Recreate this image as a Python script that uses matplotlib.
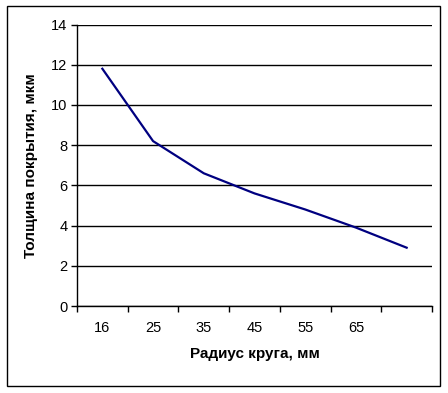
import matplotlib.pyplot as plt
from matplotlib.patches import Rectangle

plt.rcParams['font.family'] = ['Liberation Sans', 'DejaVu Sans']

# data
radius_labels = ['16', '25', '35', '45', '55', '65', '']
thickness = [11.8, 8.2, 6.6, 5.6, 4.8, 3.9, 2.9]

W, H = 448, 393
fig = plt.figure(figsize=(W / 100, H / 100), dpi=100)
ax = fig.add_axes([77 / W, 1 - 306 / H, (432 - 77) / W, (306 - 24.5) / H])

x = list(range(len(thickness)))
ax.plot(x, thickness, color='#000080', lw=1.6, solid_joinstyle='round', zorder=3)

# y axis
ax.set_ylim(0, 14)
ax.set_yticks(range(0, 15, 2))
ax.yaxis.grid(True, color='black', lw=1)
ax.tick_params(axis='y', direction='out', length=4, width=1, labelsize=10.5, pad=3)

# category x axis: ticks on boundaries, labels in the middle
ax.set_xlim(-0.5, len(x) - 0.5)
ax.set_xticks([i - 0.5 for i in range(len(x) + 1)])
ax.set_xticklabels([])
ax.set_xticks(x, minor=True)
ax.set_xticklabels(radius_labels, minor=True)
ax.tick_params(axis='x', which='major', direction='out', length=4, width=1)
ax.tick_params(axis='x', which='minor', length=0, labelsize=10.5, pad=10.5)

for s in ['top', 'right']:
    ax.spines[s].set_visible(False)
for s in ['left', 'bottom']:
    ax.spines[s].set_linewidth(1)
    ax.spines[s].set_color('black')

ax.set_xlabel('Радиус круга, мм', fontsize=11, fontweight='bold', labelpad=9)
ax.set_ylabel('Толщина покрытия, мкм', fontsize=11, fontweight='bold', labelpad=9)

# outer chart border
fig.add_artist(Rectangle((7 / W, 1 - 386 / H), (440 - 7) / W, (386 - 6) / H,
                         transform=fig.transFigure, fill=False,
                         edgecolor='black', lw=1))

fig.savefig('out.png', dpi=100)
